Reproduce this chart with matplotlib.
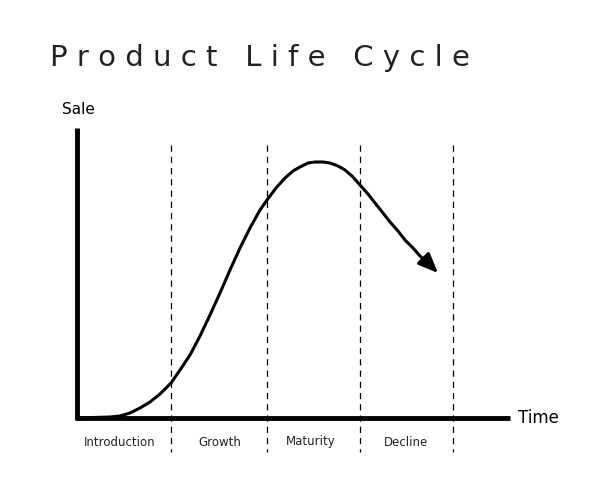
import matplotlib
matplotlib.use("Agg")
import matplotlib.pyplot as plt

# curve (pixel-like units, y grows downward)
curve_x = [77, 110, 120, 130, 140, 150, 160, 171, 180, 190, 200, 210, 220, 230,
           240, 250, 260, 267, 276, 285, 293, 300, 308, 315, 323, 330, 338,
           345, 352, 360, 368, 375, 383, 390, 398, 405, 413, 420, 430]
curve_y = [418, 417, 416, 413, 408, 402, 394, 383, 370, 355, 336, 315, 293, 270,
           248, 228, 210, 200, 188, 178, 171, 167, 163, 162, 162, 163, 166,
           170, 176, 185, 194, 203, 213, 222, 231, 240, 248, 256, 265]
stage_bounds = [171, 267, 360, 453]
stage_names = ["Introduction", "Growth", "Maturity", "Decline"]
stage_centers = [120, 220, 311, 406]

fig = plt.figure(figsize=(6.1, 4.88), dpi=100)
ax = fig.add_axes([0, 0, 1, 1])
ax.set_xlim(0, 610)
ax.set_ylim(488, 0)
ax.axis("off")

# axes
ax.plot([77, 77], [128, 419], color="black", lw=3.5, solid_capstyle="butt")
ax.plot([75, 510], [418, 418], color="black", lw=3.5, solid_capstyle="butt")

for xb in stage_bounds:
    ax.plot([xb, xb], [145, 452], color="black", lw=0.9, ls=(0, (5, 4)))

ax.plot(curve_x, curve_y, color="black", lw=2.2, solid_joinstyle="round")
ax.annotate("", xy=(440, 275), xytext=(curve_x[-1], curve_y[-1]),
            arrowprops=dict(arrowstyle="-|>,head_length=1.2,head_width=0.5",
                            color="black", lw=2.2))

ax.text(50, 58, "P r o d u c t   L i f e   C y c l e", fontsize=21,
        va="center", ha="left", color="#222222", fontfamily="DejaVu Sans")
ax.text(62, 110, "Sale", fontsize=11, va="center", ha="left")
ax.text(518, 418, "Time", fontsize=12, va="center", ha="left")
for name, cx in zip(stage_names, stage_centers):
    ax.text(cx, 442, name, fontsize=8.5, ha="center", va="center", color="#222222")

fig.savefig("out.png", dpi=100, facecolor="white")
